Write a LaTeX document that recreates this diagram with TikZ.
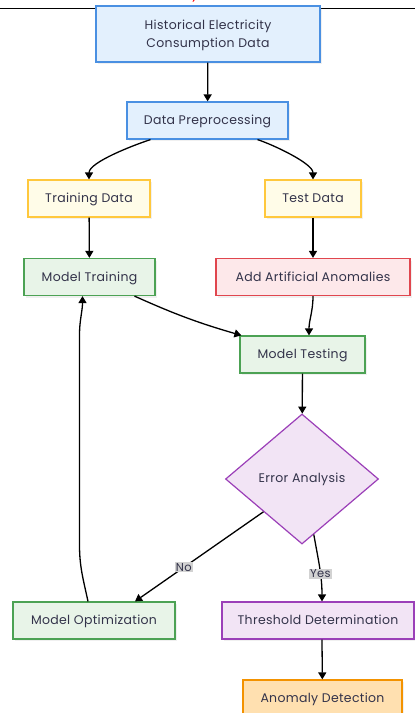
\documentclass[tikz,border=0pt]{standalone}
\usepackage{fontspec}
\setmainfont{Poppins}
\newfontfamily\boxfont[LetterSpace=2.5]{Poppins}
\usepackage{xcolor}
\usetikzlibrary{arrows.meta,shapes.geometric,shadows}
\definecolor{ink}{HTML}{33334A}
\definecolor{bluefill}{HTML}{E3F0FD}
\definecolor{blueline}{HTML}{4A90E2}
\definecolor{yelfill}{HTML}{FFFCE8}
\definecolor{yelline}{HTML}{FFC83D}
\definecolor{grnfill}{HTML}{E8F4E8}
\definecolor{grnline}{HTML}{4CA254}
\definecolor{redfill}{HTML}{FDE8EA}
\definecolor{redline}{HTML}{E0464E}
\definecolor{purfill}{HTML}{F2E4F5}
\definecolor{purline}{HTML}{9B3FB8}
\definecolor{orgfill}{HTML}{FFE0B0}
\definecolor{orgline}{HTML}{F39200}
\definecolor{tagbg}{HTML}{D2D2D2}
\tikzset{
  box/.style={rectangle, draw, line width=1.2pt, text=ink, align=center,
    font=\boxfont\fontsize{12.5}{18}\selectfont, minimum height=37pt, inner sep=0pt,
    text height=10pt, text depth=2pt,
    drop shadow={opacity=0.12, shadow xshift=2pt, shadow yshift=-2pt}},
  bluebox/.style={box, draw=blueline, fill=bluefill},
  yelbox/.style={box, draw=yelline, fill=yelfill},
  grnbox/.style={box, draw=grnline, fill=grnfill},
  redbox/.style={box, draw=redline, fill=redfill},
  purbox/.style={box, draw=purline, fill=purfill},
  orgbox/.style={box, draw=orgline, fill=orgfill},
  decide/.style={diamond, draw=purline, fill=purfill, line width=1.2pt, text=ink,
    font=\boxfont\fontsize{12.5}{14}\selectfont, inner sep=0pt, aspect=1.18,
    minimum width=153pt, minimum height=130pt},
  flow/.style={draw=black, line width=1.3pt, -{Triangle[length=7pt,width=8pt]}},
  tag/.style={fill=tagbg, text=ink, font=\boxfont\fontsize{11.5}{12}\selectfont, inner sep=1pt},
}
\begin{document}
\begin{tikzpicture}[x=1pt,y=-1pt]
  \useasboundingbox (0,0) rectangle (415,713);
  \clip (0,0) rectangle (415,713);
  % top edge of the page
  \node[text=red, font=\itshape\fontsize{14}{14}\selectfont] (cut) at (196,-4) {y};
  \draw[line width=1pt] (0,8) -- (415,8);
  % nodes
  \node[bluebox, minimum width=224pt, minimum height=56pt, text height=28pt] (hist) at (208,34)
    {Historical Electricity\\Consumption Data};
  \node[bluebox, minimum width=161pt] (prep) at (207.5,120.5) {Data Preprocessing};
  \node[yelbox, minimum width=122pt] (train) at (89,198.5) {Training Data};
  \node[yelbox, minimum width=96pt] (test) at (313,198.5) {Test Data};
  \node[grnbox, minimum width=131pt] (mtrain) at (89.5,277) {Model Training};
  \node[redbox, minimum width=194pt] (anom) at (313,277) {Add Artificial Anomalies};
  \node[grnbox, minimum width=125pt] (mtest) at (302.5,354.5) {Model Testing};
  \node[decide] (err) at (302,479) {Error Analysis};
  \node[grnbox, minimum width=162pt] (mopt) at (94,620.5) {Model Optimization};
  \node[purbox, minimum width=192pt] (thresh) at (318,620.5) {Threshold Determination};
  \node[orgbox, minimum width=159pt] (detect) at (322.5,698.5) {Anomaly Detection};
  \coordinate (loopa) at (79.5,545);
  \coordinate (loopb) at (79.5,335);
  % connectors
  \draw[flow] (hist) -- (prep);
  \draw[flow] ([xshift=-57pt]prep.south) to[out=198,in=90,looseness=0.6] (train.north);
  \draw[flow] ([xshift=50pt]prep.south) to[out=-18,in=90,looseness=0.6] (test.north);
  \draw[flow] (train) -- (mtrain);
  \draw[flow] (test) -- (anom);
  \draw[flow] ([xshift=45pt]mtrain.south) to[bend right=4] ([xshift=2pt]mtest.north west);
  \draw[flow] (anom.south) to[out=-90,in=90] ([xshift=6.5pt]mtest.north);
  \draw[flow] (mtest) -- (err);
  \draw[flow] (err.south west) -- node[tag, pos=0.62] {No} ([xshift=41pt]mopt.north);
  \draw[flow] (err.-78) to[out=-80,in=90] node[tag, pos=0.6] {Yes} ([xshift=4pt]thresh.north);
  \draw[flow] ([xshift=4pt]thresh.south) -- (detect);
  \draw[flow] ([xshift=-6pt]mopt.north) to[out=102,in=-90] (loopa) -- (loopb)
    to[out=90,in=-90] ([xshift=-7pt]mtrain.south);
\end{tikzpicture}
\end{document}
